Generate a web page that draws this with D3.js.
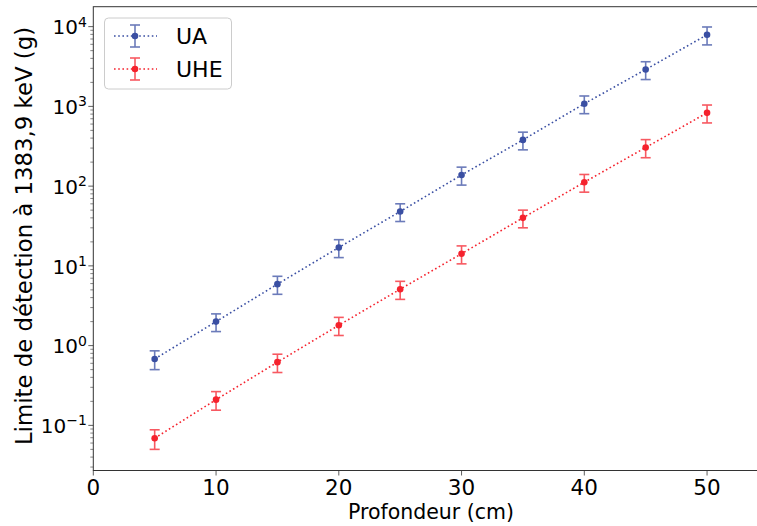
<!DOCTYPE html>
<html><head><meta charset="utf-8">
<script src="https://cdn.jsdelivr.net/npm/d3@7"></script>
<style>body{margin:0;background:#fff}svg{display:block}text{font-family:"DejaVu Sans",sans-serif}</style>
</head><body><svg id="c" width="757" height="526"></svg>
<script>
const depths = [5,10,15,20,25,30,35,40,45,50];
const uaValues = [0.68, 2.0, 5.9, 17, 48, 138, 380, 1080, 2900, 7900];
const uaErrors = [0.18, 0.5, 1.5, 4.3, 12, 35, 95, 270, 730, 2000];
const uheValues = [0.069, 0.21, 0.62, 1.8, 5.1, 14.2, 40, 112, 305, 830];
const uheErrors = [0.019, 0.055, 0.16, 0.46, 1.3, 3.6, 10, 28, 78, 210];
const xTicks = [0,10,20,30,40,50];
const yTicks = [0.1,1,10,100,1000,10000];
const seriesNames = ["UA","UHE"];

const svg = d3.select("#c");
const L=93.3, R=760, T=6.7, B=470.5;
const x = d3.scaleLinear().domain([0, 54.35]).range([L, L+(54.35)*12.275]);
const y = d3.scaleLog().domain([Math.pow(10,-1.566), Math.pow(10,4.25)]).range([B, T]);

const colors = {UA:"#3a4fa3", UHE:"#f5222d"};
const series = [
  {name:"UA", v:uaValues, e:uaErrors},
  {name:"UHE", v:uheValues, e:uheErrors}
];

// y minor ticks
const minor=[];
for(let p=-2;p<=4;p++){for(let k=2;k<=9;k++){const v=k*Math.pow(10,p); if(v>y.domain()[0]&&v<y.domain()[1]) minor.push(v);}}
const gy = svg.append("g");
gy.selectAll("line.mn").data(minor).enter().append("line")
  .attr("x1",L).attr("x2",L-3).attr("y1",d=>y(d)).attr("y2",d=>y(d)).attr("stroke","#333").attr("stroke-width",0.6);
gy.selectAll("line.mj").data(yTicks).enter().append("line")
  .attr("x1",L).attr("x2",L-5).attr("y1",d=>y(d)).attr("y2",d=>y(d)).attr("stroke","#333").attr("stroke-width",0.8);
const ylab = gy.selectAll("text.t").data(yTicks).enter().append("text")
  .attr("x",L-6.5).attr("y",d=>y(d)+7.8).attr("text-anchor","end").attr("font-size",20).attr("fill","#000");
ylab.append("tspan").text("10");
ylab.append("tspan").attr("dy",-7.8).attr("font-size",14).text(d=>{const p=Math.round(Math.log10(d)); return p<0?"\u2212"+(-p):String(p);});

// x ticks
const gx = svg.append("g");
gx.selectAll("line").data(xTicks).enter().append("line")
  .attr("x1",d=>x(d)).attr("x2",d=>x(d)).attr("y1",B).attr("y2",B+5).attr("stroke","#333").attr("stroke-width",0.8);
gx.selectAll("text").data(xTicks).enter().append("text")
  .attr("x",d=>x(d)).attr("y",B+24.5).attr("text-anchor","middle").attr("font-size",21.5).text(d=>d);

// frame
svg.append("rect").attr("x",L).attr("y",T).attr("width",R-L).attr("height",B-T)
  .attr("fill","none").attr("stroke","#333").attr("stroke-width",1);

// labels
svg.append("text").attr("x",431).attr("y",518.5).attr("text-anchor","middle").attr("font-size",20.5).text("Profondeur (cm)");
svg.append("text").attr("transform",`translate(31.5,236) rotate(-90)`).attr("text-anchor","middle").attr("font-size",22.8)
  .text("Limite de détection à 1383,9 keV (g)");

// series
series.forEach(s=>{
  const c=colors[s.name];
  const g=svg.append("g");
  const pts=depths.map((d,i)=>({x:d,v:s.v[i],e:s.e[i]}));
  g.append("path").datum(pts).attr("fill","none").attr("stroke",c).attr("stroke-width",1.6)
    .attr("stroke-dasharray","1.6,2.6")
    .attr("d",d3.line().x(d=>x(d.x)).y(d=>y(d.v)));
  const eb=g.selectAll("g.eb").data(pts).enter().append("g").attr("opacity",0.75);
  eb.append("line").attr("x1",d=>x(d.x)).attr("x2",d=>x(d.x)).attr("y1",d=>y(d.v+d.e)).attr("y2",d=>y(d.v-d.e)).attr("stroke",c).attr("stroke-width",1.6);
  eb.append("line").attr("x1",d=>x(d.x)-5).attr("x2",d=>x(d.x)+5).attr("y1",d=>y(d.v+d.e)).attr("y2",d=>y(d.v+d.e)).attr("stroke",c).attr("stroke-width",1.6);
  eb.append("line").attr("x1",d=>x(d.x)-5).attr("x2",d=>x(d.x)+5).attr("y1",d=>y(d.v-d.e)).attr("y2",d=>y(d.v-d.e)).attr("stroke",c).attr("stroke-width",1.6);
  g.selectAll("circle").data(pts).enter().append("circle").attr("cx",d=>x(d.x)).attr("cy",d=>y(d.v)).attr("r",3.3).attr("fill",c);
});

// legend
const lg=svg.append("g");
lg.append("rect").attr("x",104.5).attr("y",18).attr("width",127).attr("height",71).attr("rx",4)
  .attr("fill","#fff").attr("fill-opacity",0.8).attr("stroke","#ccc").attr("stroke-width",1);
seriesNames.forEach((n,i)=>{
  const c=colors[n], cy=36+i*33, cx=135;
  lg.append("line").attr("x1",114).attr("x2",157).attr("y1",cy).attr("y2",cy).attr("stroke",c).attr("stroke-width",1.6).attr("stroke-dasharray","1.6,2.6");
  const e=lg.append("g").attr("opacity",0.75);
  e.append("line").attr("x1",cx).attr("x2",cx).attr("y1",cy-11).attr("y2",cy+11).attr("stroke",c).attr("stroke-width",1.6);
  e.append("line").attr("x1",cx-5).attr("x2",cx+5).attr("y1",cy-11).attr("y2",cy-11).attr("stroke",c).attr("stroke-width",1.6);
  e.append("line").attr("x1",cx-5).attr("x2",cx+5).attr("y1",cy+11).attr("y2",cy+11).attr("stroke",c).attr("stroke-width",1.6);
  lg.append("circle").attr("cx",cx).attr("cy",cy).attr("r",3.3).attr("fill",c);
  lg.append("text").attr("x",176).attr("y",cy+8).attr("font-size",22).text(n);
});
</script></body></html>
